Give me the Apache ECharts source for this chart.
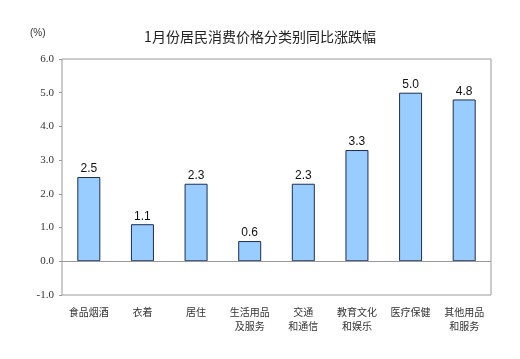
<!DOCTYPE html>
<html><head><meta charset="utf-8">
<script src="https://cdn.jsdelivr.net/npm/echarts@6/dist/echarts.min.js"></script>
<style>html,body{margin:0;padding:0;background:#fff}#c{width:520px;height:359px}</style>
</head><body><div id="c"></div>
<script>
var categories = ['食品烟酒','衣着','居住','生活用品\n及服务','交通\n和通信','教育文化\n和娱乐','医疗保健','其他用品\n和服务'];
var values = [2.5, 1.1, 2.3, 0.6, 2.3, 3.3, 5.0, 4.8];
var chart = echarts.init(document.getElementById('c'));
chart.setOption({
  animation: false,
  title: {text: '1月份居民消费价格分类别同比涨跌幅', left: 'center', top: 25,
    textStyle: {fontSize: 14, fontWeight: 'normal', color: '#222', fontFamily: 'Noto Sans CJK SC'}},
  graphic: [{type: 'text', left: 30, top: 28, style: {text: '(%)', fontSize: 10, fill: '#333', fontFamily: 'Liberation Sans'}}],
  grid: {left: 62, right: 29, top: 59, bottom: 64, show: true, borderColor: '#999', borderWidth: 1},
  xAxis: {type: 'category', data: categories, position: 'bottom',
    axisLine: {show: false}, axisTick: {show: false},
    axisLabel: {fontSize: 10, color: '#333', margin: 10, lineHeight: 14, fontFamily: 'Noto Sans CJK SC', interval: 0}},
  yAxis: {type: 'value', min: -1, max: 6, interval: 1,
    axisLine: {show: false}, splitLine: {show: false},
    axisTick: {show: true, length: 3, lineStyle: {color: '#999'}},
    axisLabel: {fontSize: 11, color: '#333', margin: 8, fontFamily: 'Liberation Serif',
      formatter: function(v){return v.toFixed(1);}}},
  series: [{type: 'bar', data: values, barWidth: 23,
    itemStyle: {color: '#99ccff', borderColor: '#1f2f4f', borderWidth: 1},
    label: {show: true, position: 'top', distance: 2, fontSize: 12, color: '#111', fontFamily: 'Liberation Sans',
      formatter: function(p){return p.value.toFixed(1);}},
    markLine: {silent: true, symbol: 'none', label: {show: false},
      lineStyle: {color: '#999', type: 'solid', width: 1}, data: [{yAxis: 0}]}
  }]
});
</script></body></html>
